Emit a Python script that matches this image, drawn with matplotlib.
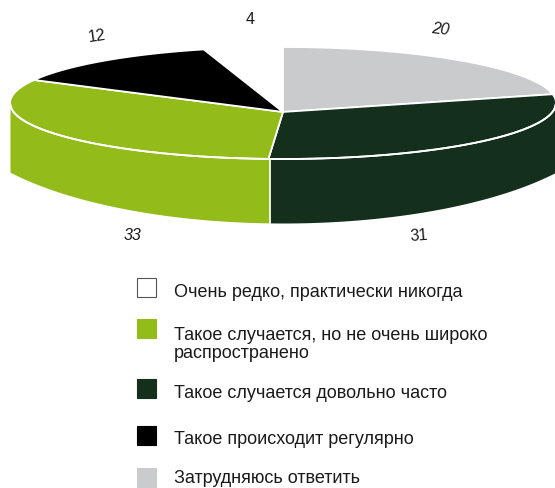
import numpy as np
import matplotlib
matplotlib.use("Agg")
import matplotlib.pyplot as plt
from matplotlib.patches import Rectangle

# clockwise from 12 o'clock
values = [20, 31, 33, 12, 4]
colors = ["#cacbcd", "#142f1c", "#93bc1a", "#000000", "#ffffff"]
label_pos = [(440, 29), (419, 236), (133, 235), (97, 36), (250, 20)]
label_rot = [-6, 4, 0, 8, 0]
label_style = ["italic", "normal", "italic", "normal", "normal"]

legend_labels = ["Очень редко, практически никогда",
                 "Такое случается, но не очень широко\nраспространено",
                 "Такое случается довольно часто",
                 "Такое происходит регулярно",
                 "Затрудняюсь ответить"]
legend_colors = ["#ffffff", "#93bc1a", "#142f1c", "#000000", "#cacbcd"]
legend_y = [278, 319, 379, 426, 468]
legend_base = [297, 358, 398, 444, 483]

plt.rcParams["font.family"] = ["Liberation Sans Narrow", "Liberation Sans", "DejaVu Sans"]

cx, cy, a, b = 283, 103, 273, 56
tilt = 0.16  # moves the pie centre below the middle of the ellipse
wall_a, wall_b, wall_cy = 330, 116, 107
left, right = 10, 556


def rim(frac):
    t = 2 * np.pi * np.asarray(frac)
    u, v = np.sin(t), np.cos(t)
    d = 1 - tilt * v
    return (cx + a * u * np.sqrt(1 - tilt ** 2) / d,
            cy - b * (v - tilt) / d)


def top_edge(x):
    return cy + b * np.sqrt(np.clip(1 - ((x - cx) / a) ** 2, 0, 1))


def bottom_edge(x):
    return wall_cy + wall_b * np.sqrt(1 - ((x - cx) / wall_a) ** 2)


fig = plt.figure(figsize=(5.55, 4.88), dpi=100)
ax = fig.add_axes([0, 0, 1, 1])
ax.set_xlim(0, 555)
ax.set_ylim(488, 0)
ax.axis("off")

fracs = np.cumsum([0] + values) / sum(values)
apex_x, apex_y = cx, cy + b * tilt

# side wall, split where the 33/31 boundary hits the rim
split_x = float(rim(fracs[2])[0]) + 1.5
for x0, x1, col in [(left, split_x, colors[2]), (split_x, right, colors[1])]:
    xs = np.linspace(x0, x1, 120)
    ax.fill_between(xs, top_edge(xs), bottom_edge(xs), color=col, lw=0)
ax.plot([split_x, split_x], [top_edge(split_x), bottom_edge(split_x)], color="white", lw=1.2)

# top face
for i, col in enumerate(colors):
    if values[i] == 4:
        continue
    rx, ry = rim(np.linspace(fracs[i], fracs[i + 1], 100))
    ax.fill(np.r_[apex_x, rx], np.r_[apex_y, ry], facecolor=col, edgecolor="white", lw=1.3, joinstyle="miter")

# white line between top face and wall
xs = np.linspace(left, right, 300)
ax.plot(xs, top_edge(xs), color="white", lw=1.3)

for v, pos, rot, st in zip(values, label_pos, label_rot, label_style):
    ax.text(pos[0], pos[1], str(v), fontsize=11.5, rotation=rot, style=st,
            ha="center", va="center", color="#1a1a1a")

for y, base, col, lab in zip(legend_y, legend_base, legend_colors, legend_labels):
    ax.add_patch(Rectangle((137, y), 19, 19, facecolor=col,
                           edgecolor="#555555" if col == "#ffffff" else col, lw=0.8))
    ax.text(174, base, lab, fontsize=13, va="baseline", ha="left", color="#1a1a1a", linespacing=1.05)

fig.savefig("out.png", dpi=100)
